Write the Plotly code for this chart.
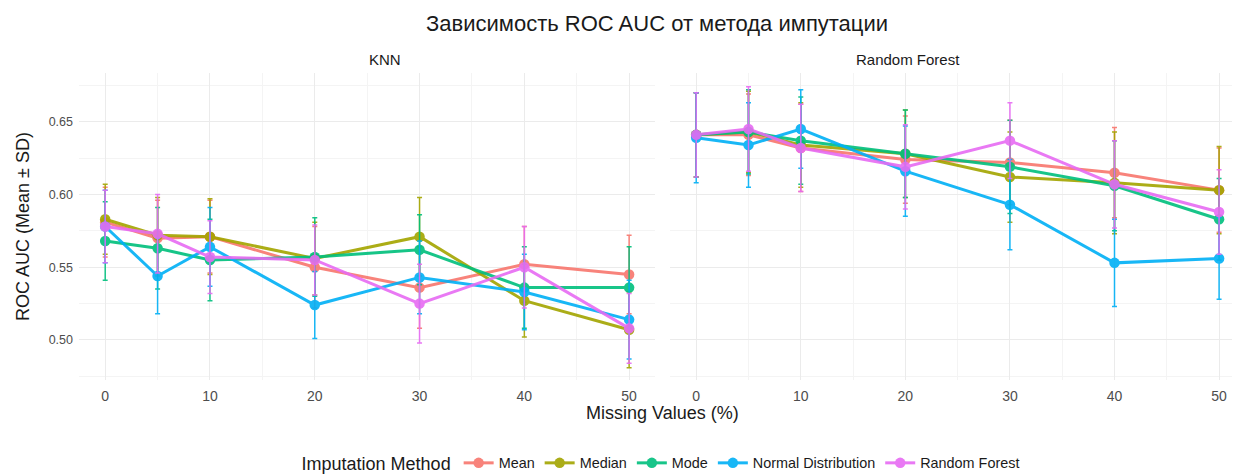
import plotly.graph_objects as go

x_vals = [0, 5, 10, 20, 30, 40, 50]
methods = ["Mean", "Median", "Mode", "Normal Distribution", "Random Forest"]
colors = ["#F8766D", "#A3A500", "#00BF7D", "#00B0F6", "#E76BF3"]

# KNN panel
knn_mean = {
    "Mean":                [0.581, 0.570, 0.571, 0.550, 0.536, 0.552, 0.545],
    "Median":              [0.583, 0.572, 0.571, 0.556, 0.571, 0.527, 0.507],
    "Mode":                [0.568, 0.563, 0.555, 0.557, 0.562, 0.536, 0.536],
    "Normal Distribution": [0.578, 0.544, 0.564, 0.524, 0.543, 0.533, 0.514],
    "Random Forest":       [0.578, 0.573, 0.557, 0.555, 0.525, 0.550, 0.508],
}
knn_sd = {
    "Mean":                [0.024, 0.026, 0.025, 0.028, 0.028, 0.026, 0.027],
    "Median":              [0.024, 0.026, 0.026, 0.025, 0.027, 0.025, 0.026],
    "Mode":                [0.027, 0.028, 0.028, 0.027, 0.024, 0.028, 0.028],
    "Normal Distribution": [0.025, 0.026, 0.027, 0.023, 0.025, 0.026, 0.027],
    "Random Forest":       [0.025, 0.027, 0.025, 0.024, 0.027, 0.028, 0.024],
}
# Random Forest panel
rf_mean = {
    "Mean":                [0.641, 0.641, 0.632, 0.624, 0.622, 0.615, 0.603],
    "Median":              [0.641, 0.643, 0.634, 0.628, 0.612, 0.608, 0.603],
    "Mode":                [0.641, 0.643, 0.637, 0.628, 0.619, 0.606, 0.583],
    "Normal Distribution": [0.639, 0.634, 0.645, 0.616, 0.593, 0.553, 0.556],
    "Random Forest":       [0.641, 0.645, 0.632, 0.619, 0.637, 0.607, 0.588],
}
rf_sd = {
    "Mean":                [0.029, 0.028, 0.030, 0.030, 0.029, 0.031, 0.029],
    "Median":              [0.029, 0.028, 0.029, 0.030, 0.031, 0.035, 0.030],
    "Mode":                [0.029, 0.029, 0.030, 0.030, 0.032, 0.031, 0.028],
    "Normal Distribution": [0.031, 0.029, 0.027, 0.031, 0.031, 0.030, 0.028],
    "Random Forest":       [0.029, 0.029, 0.030, 0.029, 0.026, 0.030, 0.029],
}

FONT = "Liberation Sans, Arial, sans-serif"
fig = go.Figure()

for panel, (means, sds, xa, ya) in enumerate([(knn_mean, knn_sd, "x", "y"),
                                               (rf_mean, rf_sd, "x2", "y2")]):
    for m, c in zip(methods, colors):
        fig.add_trace(go.Scatter(
            x=x_vals, y=means[m], xaxis=xa, yaxis=ya,
            mode="lines+markers", name=m, legendgroup=m,
            showlegend=(panel == 0),
            line=dict(color=c, width=3),
            marker=dict(color=c, size=10.5),
            opacity=0.9,
            error_y=dict(type="data", array=sds[m], visible=True,
                         color=c, thickness=1.5, width=2.5),
        ))

grid_major = "#EBEBEB"
grid_minor = "#F4F4F4"
xcommon = dict(tickvals=[0, 10, 20, 30, 40, 50],
               showgrid=True, gridcolor=grid_major, gridwidth=1.2,
               minor=dict(tickvals=[5, 15, 25, 35, 45], showgrid=True,
                          gridcolor=grid_minor, gridwidth=0.7),
               zeroline=False, showline=False, ticks="", automargin=False,
               ticklabelstandoff=6,
               tickfont=dict(family=FONT, size=14, color="#4D4D4D"))
ycommon = dict(range=[0.4725, 0.6835], tickvals=[0.50, 0.55, 0.60, 0.65],
               ticktext=["0.50", "0.55", "0.60", "0.65"],
               showgrid=True, gridcolor=grid_major, gridwidth=1.2,
               minor=dict(tickvals=[0.475, 0.525, 0.575, 0.625, 0.675], showgrid=True,
                          gridcolor=grid_minor, gridwidth=0.7),
               zeroline=False, showline=False, ticks="", automargin=False,
               tickfont=dict(family=FONT, size=12.5, color="#4D4D4D"))

fig.update_layout(
    width=1232, height=467,
    margin=dict(l=71, r=0, t=65, b=95, pad=0, autoexpand=False),
    plot_bgcolor="white", paper_bgcolor="white",
    font=dict(family=FONT, color="#1A1A1A"),
    xaxis=dict(domain=[0, 0.4964], range=[-2.5, 52.5], **xcommon),
    xaxis2=dict(domain=[0.5091, 1.0], range=[-2.5, 52.0], **xcommon),
    yaxis=dict(anchor="x", title=dict(text="ROC AUC (Mean ± SD)",
                                      font=dict(family=FONT, size=18, color="#1A1A1A"),
                                      standoff=14),
               ticklabelstandoff=5, **ycommon),
    yaxis2=dict(anchor="x2", matches="y", showticklabels=False, **ycommon),
    title=dict(text="Зависимость ROC AUC от метода импутации", x=0.5268, xanchor="center",
               xref="container", y=0.968, yanchor="middle",
               font=dict(family=FONT, size=22, color="#1A1A1A")),
    legend=dict(orientation="h", x=0.5022, xanchor="center", y=-0.2736, yanchor="middle",
                title=dict(text="Imputation Method", font=dict(family=FONT, size=18, color="#1A1A1A")),
                font=dict(family=FONT, size=14.4, color="#1A1A1A")),
    annotations=[
        dict(text="KNN", x=0.2482, y=1.0456, xref="paper", yref="paper",
             showarrow=False, yanchor="middle",
             font=dict(family=FONT, size=15, color="#1A1A1A")),
        dict(text="Random Forest", x=0.7606, y=1.0456, xref="paper", yref="paper",
             showarrow=False, yanchor="middle",
             font=dict(family=FONT, size=15, color="#1A1A1A")),
        dict(text="Missing Values (%)", x=0.5022, y=-0.1075, xref="paper", yref="paper",
             showarrow=False, yanchor="middle",
             font=dict(family=FONT, size=18, color="#1A1A1A")),
    ],
)

fig.write_html("out.html")
